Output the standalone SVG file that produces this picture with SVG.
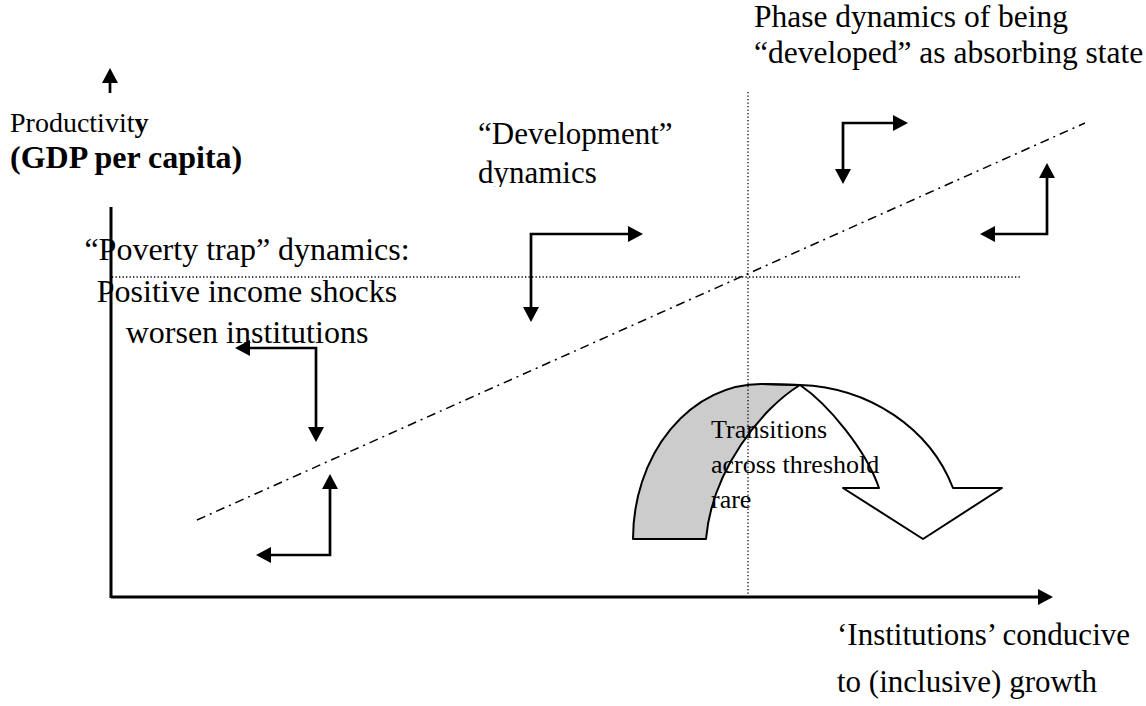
<svg xmlns="http://www.w3.org/2000/svg" width="1146" height="706" viewBox="0 0 1146 706">
<defs>
<marker id="ah" viewBox="0 0 15 16" refX="0" refY="8" markerWidth="15" markerHeight="16" markerUnits="userSpaceOnUse" orient="auto-start-reverse"><path d="M0,0 L15,8 L0,16 Z" fill="#000"/></marker>
<clipPath id="clipDev"><rect x="0" y="0" width="1146" height="187"/></clipPath>
</defs>
<style>
text{font-family:"Liberation Serif","Times New Roman",serif;fill:#000}
.t32{font-size:32px}
.t31{font-size:31px}
.t315{font-size:31.5px}
.t28{font-size:28px}
.t26{font-size:26px}
.b{font-weight:bold}
.arr{fill:none;stroke:#000;stroke-width:2.7;stroke-linejoin:miter;marker-start:url(#ah);marker-end:url(#ah)}
.arrE{fill:none;stroke:#000;stroke-width:2.7;marker-end:url(#ah)}
.axis{fill:none;stroke:#000;stroke-width:3}
.dot{fill:none;stroke:#000;stroke-width:1.3;stroke-dasharray:1.3 2.2}
.dashdot{fill:none;stroke:#000;stroke-width:1.5;stroke-dasharray:9 5 2 5}
.shape{stroke:#000;stroke-width:2;stroke-linejoin:round}
</style>
<rect width="1146" height="706" fill="#fff"/>
<g id="transition-arrow">
<path class="shape" fill="#cccccc" d="M633,539 A128,155 0 0 1 761,384 L800,385 C762,408 712,470 706,539 Z"/>
<path class="shape" fill="#ffffff" d="M800,385 A169,155 0 0 1 953,488 L1002,488 L923,539 L843,488 L879,488 C866,450 828,404 800,385 Z"/>
<path fill="none" stroke="#000" stroke-width="2" d="M761,384 L800,385"/>
</g>
<g id="connectors">
<path class="axis" d="M111,207 L111,598"/>
<path class="arrE" d="M111,597 L1038,597" style="stroke-width:3"/>
<path class="arrE" d="M110,93 L110,83"/>
<path class="dot" d="M112,277 L1020,277"/>
<path class="dot" d="M748,92 L748,597"/>
<path class="dashdot" d="M197,520 L1085,123"/>
<path class="arr" d="M531,307 L531,234 L628,234"/>
<path class="arr" d="M843,169 L843,123 L893,123"/>
<path class="arr" d="M1047,178 L1047,234 L995,234"/>
<path class="arr" d="M250,348 L316,348 L316,427"/>
<path class="arr" d="M330,489 L330,555 L271,555"/>
</g>
<g id="label-productivity">
<text x="10" y="132" class="t28">Productivit<tspan class="b">y</tspan></text>
<text x="10" y="168" class="t32 b">(GDP per capita)</text>
</g>
<g id="label-phase">
<text x="754" y="27" class="t315">Phase dynamics of being</text>
<text x="754" y="63" class="t315">“developed” as absorbing state</text>
</g>
<g id="label-development" clip-path="url(#clipDev)">
<text x="478" y="144" class="t31">“Development”</text>
<text x="478" y="183" class="t31">dynamics</text>
</g>
<g id="label-poverty">
<text x="247" y="260" class="t32" text-anchor="middle">“Poverty trap” dynamics:</text>
<text x="247" y="302" class="t32" text-anchor="middle">Positive income shocks</text>
<text x="247" y="343" class="t32" text-anchor="middle">worsen institutions</text>
</g>
<g id="label-transitions">
<text x="711" y="438" class="t26">Transitions</text>
<text x="711" y="473" class="t26">across threshold</text>
<text x="711" y="508" class="t26">rare</text>
</g>
<g id="label-institutions">
<text x="837" y="645" class="t31">‘Institutions’ conducive</text>
<text x="837" y="692" class="t31">to (inclusive) growth</text>
</g>
</svg>
